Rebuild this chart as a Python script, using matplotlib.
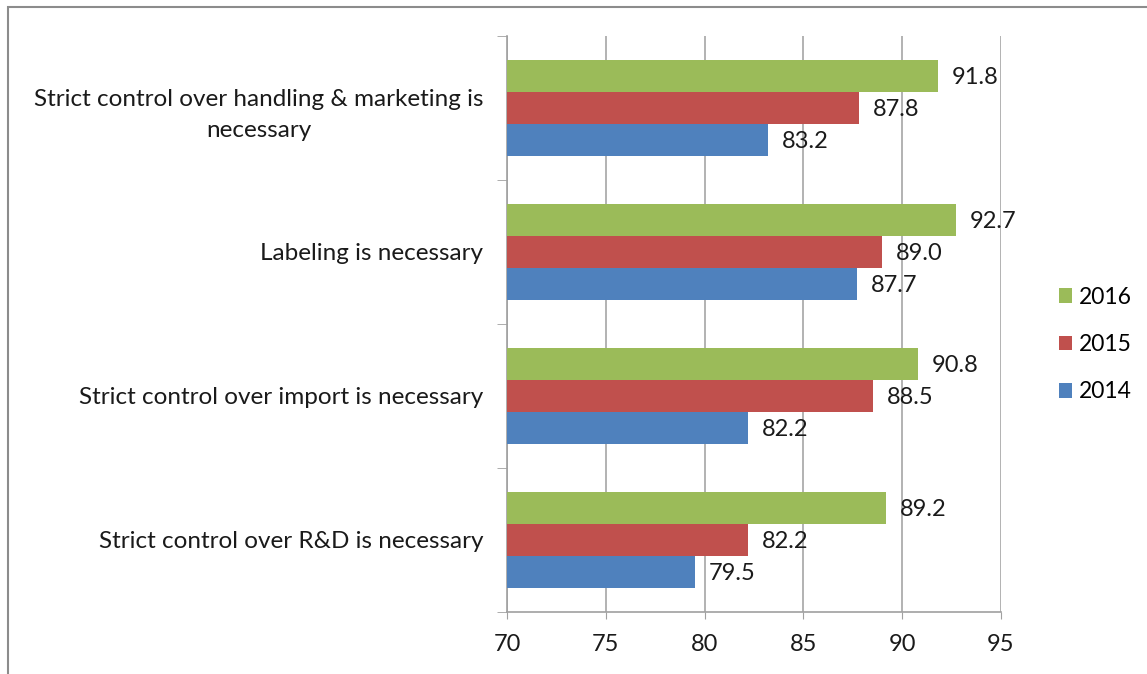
import numpy as np
import matplotlib.pyplot as plt
from matplotlib.patches import Rectangle

plt.rcParams['font.family'] = ['Lato', 'DejaVu Sans']

categories = ['Strict control over handling & marketing is\nnecessary',
              'Labeling is necessary',
              'Strict control over import is necessary',
              'Strict control over R&D is necessary']
years = ['2016', '2015', '2014']
values = {
    '2016': [91.8, 92.7, 90.8, 89.2],
    '2015': [87.8, 89.0, 88.5, 82.2],
    '2014': [83.2, 87.7, 82.2, 79.5],
}
colors = {'2016': '#9BBB59', '2015': '#C0504D', '2014': '#4F81BD'}
xticks = [70, 75, 80, 85, 90, 95]

fig = plt.figure(figsize=(11.47, 6.74), dpi=100)
ax = fig.add_axes([507 / 1147, 1 - 612 / 674, (1001 - 507) / 1147, (612 - 36) / 674])

n = len(categories)
centers = np.arange(n)[::-1].astype(float)  # top category at top
bh = 2 / 9
for i, yr in enumerate(years):
    y = centers + (1 - i) * bh
    ax.barh(y, np.array(values[yr]) - 70, left=70, height=bh, color=colors[yr],
            label=yr, zorder=3)
    for yy, v in zip(y, values[yr]):
        ax.text(v + 0.7, yy - 0.01, f'{v:.1f}', va='center', ha='left', fontsize=17,
                color='#1a1a1a', zorder=4)

ax.set_xlim(70, 95)
ax.set_ylim(-0.5, n - 0.5)
ax.set_xticks(xticks)
ax.set_xticklabels([str(t) for t in xticks], fontsize=17)
ax.tick_params(axis='x', length=5, color='#a0a0a0', pad=11, labelcolor='#1a1a1a')
ax.xaxis.grid(True, color='#a6a6a6', linewidth=1.2, zorder=0)

ax.set_yticks(centers)
ax.set_yticklabels(categories, fontsize=17.5, ha='right', color='#1a1a1a')
ax.set_yticks(np.arange(n + 1) - 0.5, minor=True)
ax.tick_params(axis='y', which='major', length=0, pad=17)
ax.tick_params(axis='y', which='minor', length=7, color='#a0a0a0')
for lbl in ax.get_yticklabels():
    lbl.set_multialignment('center')
    lbl.set_linespacing(1.6)

for s in ['top', 'right']:
    ax.spines[s].set_visible(False)
for s in ['left', 'bottom']:
    ax.spines[s].set_color('#a0a0a0')
    ax.spines[s].set_linewidth(1.2)

handles, labels = ax.get_legend_handles_labels()
leg = fig.legend(handles, labels, loc='upper left', bbox_to_anchor=(1038 / 1147, 1 - 266 / 674),
                 frameon=False, fontsize=16.5, handlelength=0.6, handleheight=0.6,
                 labelspacing=1.15, handletextpad=0.3)

# outer chart frame
fig.patches.append(Rectangle((8 / 1147, -0.1), 1.2, 1 - 7 / 674 + 0.1, transform=fig.transFigure,
                             fill=False, edgecolor='#8c8c8c', linewidth=1.5))

fig.savefig('out.png', dpi=100, facecolor='white')
